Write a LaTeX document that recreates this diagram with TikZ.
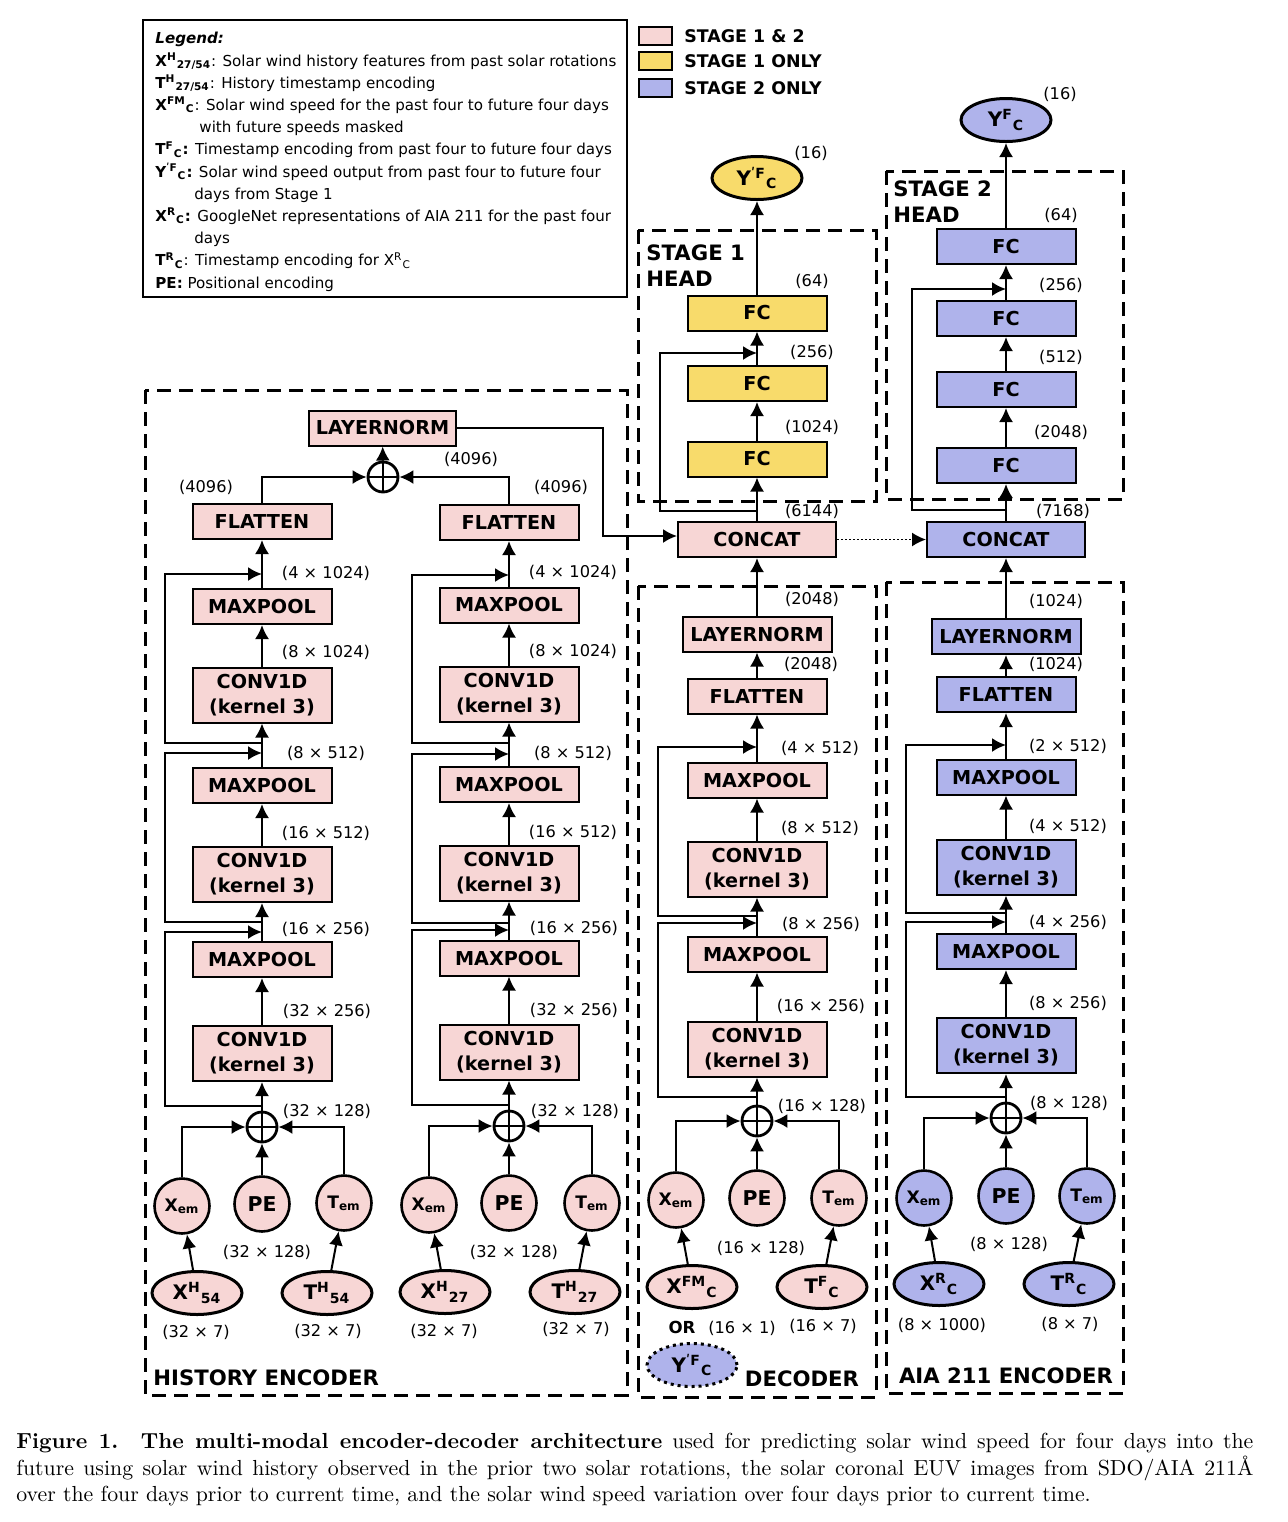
\documentclass[tikz,border=0pt]{standalone}
\usepackage{fontspec}
\newfontfamily\dvs{DejaVu Sans}
\usetikzlibrary{arrows.meta,shapes.geometric,positioning}

\definecolor{pinkfill}{HTML}{F7D6D5}
\definecolor{yelfill}{HTML}{F8DB6B}
\definecolor{bluefill}{HTML}{AFB3EB}

\newcommand{\supsub}[3]{#1\textsuperscript{#2}\textsubscript{#3}}

\tikzset{
  lay/.style={draw, line width=1pt, inner sep=0pt, minimum width=69.5pt, minimum height=17.5pt,
    align=center, font=\dvs\bfseries\fontsize{9.6}{12.5}\selectfont},
  lay2/.style={lay, minimum height=27.5pt},
  s12/.style={fill=pinkfill},
  s1/.style={fill=yelfill},
  s2/.style={fill=bluefill},
  emb/.style={circle, draw, line width=1.3pt, minimum size=27.5pt, inner sep=0pt,
    font=\dvs\bfseries\fontsize{8.6}{10}\selectfont},
  pe/.style={emb, font=\dvs\bfseries\fontsize{10.2}{11}\selectfont},
  inp/.style={ellipse, draw, line width=1.5pt, minimum width=45pt, minimum height=21.5pt,
    inner sep=0pt, font=\dvs\bfseries\fontsize{10}{11}\selectfont},
  dim/.style={inner sep=0pt, font=\dvs\fontsize{8.1}{10}\selectfont},
  grp/.style={line width=1.5pt, dash pattern=on 7pt off 4pt},
  ttl/.style={inner sep=0pt, align=left, font=\dvs\bfseries\fontsize{10.6}{13}\selectfont},
  key/.style={inner sep=0pt, anchor=west, font=\dvs\bfseries\fontsize{8.7}{10}\selectfont},
  swatch/.style={draw, line width=1pt, minimum width=16.5pt, minimum height=9pt, inner sep=0pt},
  arr/.style={-{Latex[length=7pt,width=7pt]}, line width=1pt},
  oplus/.style={circle, draw, line width=1.4pt, minimum size=15pt, inner sep=0pt,
    path picture={\draw[line width=1.4pt] (path picture bounding box.north) -- (path picture bounding box.south)
      (path picture bounding box.west) -- (path picture bounding box.east);}},
}

\begin{document}
\begin{tikzpicture}[x=0.5pt,y=-0.5pt]
\path[use as bounding box, fill=white] (0,0) rectangle (1288,1522);

% legend
\draw[line width=1pt] (143,20) rectangle (627,297);
\node[anchor=north west, inner sep=0pt, align=left, font=\dvs\fontsize{7.55}{11.1}\selectfont] (leg) at (155,32) {%
\textbf{\textit{Legend:}}\\
\textbf{\supsub{X}{H}{27/54}}: Solar wind history features from past solar rotations\\
\textbf{\supsub{T}{H}{27/54}}: History timestamp encoding\\
\textbf{\supsub{X}{FM}{C}}: Solar wind speed for the past four to future four days\\
\hspace*{22pt}with future speeds masked\\
\textbf{\supsub{T}{F}{C}:} Timestamp encoding from past four to future four days\\
\textbf{\supsub{Y}{ʹF}{C}:} Solar wind speed output from past four to future four\\
\hspace*{19.5pt}days from Stage 1\\
\textbf{\supsub{X}{R}{C}:} GoogleNet representations of AIA 211 for the past four\\
\hspace*{19.5pt}days\\
\textbf{\supsub{T}{R}{C}}: Timestamp encoding for \supsub{X}{R}{C}\\
\textbf{PE:} Positional encoding};

\node[swatch,s12] (k1) at (655.5,36) {};
\node[swatch,s1] (k2) at (655.5,61) {};
\node[swatch,s2] (k3) at (655.5,88) {};
\node[key, right=5.5pt of k1] (k1t) {STAGE 1 \& 2};
\node[key, right=5.5pt of k2] (k2t) {STAGE 1 ONLY};
\node[key, right=5.5pt of k3] (k3t) {STAGE 2 ONLY};

% group frames
\draw[grp] (145,390) rectangle (627,1395);
\draw[grp] (638,586) rectangle (876,1397);
\draw[grp] (886,582) rectangle (1123,1393);
\draw[grp] (638,230) rectangle (876,501);
\draw[grp] (886,171) rectangle (1123,499);
\node[ttl, anchor=west] (htl) at (153,1378) {HISTORY ENCODER};
\node[ttl] (dtl) at (802,1379) {DECODER};
\node[ttl] (atl) at (1006,1376) {AIA 211 ENCODER};
\node[ttl, anchor=north west] (s1tl) at (646,244) {STAGE 1\\HEAD};
\node[ttl, anchor=north west] (s2tl) at (893,180) {STAGE 2\\HEAD};

% history encoder, left branch
\node[lay,s12] (h1f) at (262,521.5) {FLATTEN};
\node[lay,s12] (h1m3) at (262,606.5) {MAXPOOL};
\node[lay2,s12] (h1c3) at (262,695) {CONV1D\\(kernel 3)};
\node[lay,s12] (h1m2) at (262,785.5) {MAXPOOL};
\node[lay2,s12] (h1c2) at (262,874.5) {CONV1D\\(kernel 3)};
\node[lay,s12] (h1m1) at (262,959.5) {MAXPOOL};
\node[lay2,s12] (h1c1) at (262,1053.5) {CONV1D\\(kernel 3)};
\node[oplus] (h1p) at (262,1127) {};
\node[emb,s12] (h1x) at (182,1206) {X\textsubscript{em}};
\node[pe,s12] (h1pe) at (262,1204) {PE};
\node[emb,s12] (h1t) at (344,1203) {T\textsubscript{em}};
\node[inp,s12] (h1xi) at (197,1293) {\supsub{X}{H}{54}};
\node[inp,s12] (h1ti) at (327,1293) {\supsub{T}{H}{54}};
\coordinate (h1a1) at (262,1106);
\coordinate (h1b1) at (262,932);
\coordinate (h1a2) at (262,922);
\coordinate (h1b2) at (262,753);
\coordinate (h1a3) at (262,743);
\coordinate (h1b3) at (262,574);

\draw[arr] (h1xi) -- (h1x);
\draw[arr] (h1ti) -- (h1t);
\draw[arr] (h1x) |- (h1p);
\draw[arr] (h1t) |- (h1p);
\draw[arr] (h1pe) -- (h1p);
\draw[arr] (h1p) -- (h1c1);
\draw[arr] (h1c1) -- (h1m1);
\draw[arr] (h1m1) -- (h1c2);
\draw[arr] (h1c2) -- (h1m2);
\draw[arr] (h1m2) -- (h1c3);
\draw[arr] (h1c3) -- (h1m3);
\draw[arr] (h1m3) -- (h1f);
\draw[arr] (h1a1) -- ++(-97,0) |- (h1b1);
\draw[arr] (h1a2) -- ++(-97,0) |- (h1b2);
\draw[arr] (h1a3) -- ++(-97,0) |- (h1b3);

\node[dim] (h1d1) at (326,573) {(4 × 1024)};
\node[dim] (h1d2) at (326,652) {(8 × 1024)};
\node[dim] (h1d3) at (326,753) {(8 × 512)};
\node[dim] (h1d4) at (326,833) {(16 × 512)};
\node[dim] (h1d5) at (326,929) {(16 × 256)};
\node[dim] (h1d6) at (327,1011) {(32 × 256)};
\node[dim] (h1d7) at (327,1111) {(32 × 128)};
\node[dim] (h1d8) at (267,1252) {(32 × 128)};
\node[dim] (h1d9) at (196,1332) {(32 × 7)};
\node[dim] (h1d10) at (328,1331) {(32 × 7)};

% history encoder, right branch
\node[lay,s12] (h2f) at (509,522.5) {FLATTEN};
\node[lay,s12] (h2m3) at (509,605) {MAXPOOL};
\node[lay2,s12] (h2c3) at (509,694) {CONV1D\\(kernel 3)};
\node[lay,s12] (h2m2) at (509,784.5) {MAXPOOL};
\node[lay2,s12] (h2c2) at (509,873) {CONV1D\\(kernel 3)};
\node[lay,s12] (h2m1) at (509,958) {MAXPOOL};
\node[lay2,s12] (h2c1) at (509,1052) {CONV1D\\(kernel 3)};
\node[oplus] (h2p) at (509,1126) {};
\node[emb,s12] (h2x) at (429,1205) {X\textsubscript{em}};
\node[pe,s12] (h2pe) at (509,1203) {PE};
\node[emb,s12] (h2t) at (592,1203) {T\textsubscript{em}};
\node[inp,s12] (h2xi) at (445,1292) {\supsub{X}{H}{27}};
\node[inp,s12] (h2ti) at (575,1292) {\supsub{T}{H}{27}};
\coordinate (h2a1) at (509,1105);
\coordinate (h2b1) at (509,930);
\coordinate (h2a2) at (509,923);
\coordinate (h2b2) at (509,754);
\coordinate (h2a3) at (509,743);
\coordinate (h2b3) at (509,575);

\draw[arr] (h2xi) -- (h2x);
\draw[arr] (h2ti) -- (h2t);
\draw[arr] (h2x) |- (h2p);
\draw[arr] (h2t) |- (h2p);
\draw[arr] (h2pe) -- (h2p);
\draw[arr] (h2p) -- (h2c1);
\draw[arr] (h2c1) -- (h2m1);
\draw[arr] (h2m1) -- (h2c2);
\draw[arr] (h2c2) -- (h2m2);
\draw[arr] (h2m2) -- (h2c3);
\draw[arr] (h2c3) -- (h2m3);
\draw[arr] (h2m3) -- (h2f);
\draw[arr] (h2a1) -- ++(-97,0) |- (h2b1);
\draw[arr] (h2a2) -- ++(-97,0) |- (h2b2);
\draw[arr] (h2a3) -- ++(-97,0) |- (h2b3);

\node[dim] (h2d1) at (573,572) {(4 × 1024)};
\node[dim] (h2d2) at (573,651) {(8 × 1024)};
\node[dim] (h2d3) at (573,753) {(8 × 512)};
\node[dim] (h2d4) at (573,832) {(16 × 512)};
\node[dim] (h2d5) at (574,928) {(16 × 256)};
\node[dim] (h2d6) at (574,1010) {(32 × 256)};
\node[dim] (h2d7) at (575,1111) {(32 × 128)};
\node[dim] (h2d8) at (514,1252) {(32 × 128)};
\node[dim] (h2d9) at (444,1331) {(32 × 7)};
\node[dim] (h2d10) at (576,1329) {(32 × 7)};

% history merge
\node[oplus] (hp) at (383,477) {};
\node[lay,s12,minimum width=73.5pt] (hln) at (382.5,428) {LAYERNORM};
\draw[arr] (h1f) |- (hp);
\draw[arr] (h2f) |- (hp);
\draw[arr] (hp) -- (hln);
\node[dim] (hd1) at (206,487) {(4096)};
\node[dim] (hd2) at (471,459) {(4096)};
\node[dim] (hd3) at (561,487) {(4096)};

% decoder
\node[lay,s12,minimum width=79pt] (dcat) at (757,539.5) {CONCAT};
\node[lay,s12,minimum width=74.5pt] (dln) at (757,634) {LAYERNORM};
\node[lay,s12] (dfl) at (757,696) {FLATTEN};
\node[lay,s12] (dm2) at (757,780) {MAXPOOL};
\node[lay2,s12] (dc2) at (757,869) {CONV1D\\(kernel 3)};
\node[lay,s12] (dm1) at (757,954) {MAXPOOL};
\node[lay2,s12] (dc1) at (757,1049) {CONV1D\\(kernel 3)};
\node[oplus] (dp) at (757,1121) {};
\node[emb,s12] (dx) at (676,1200) {X\textsubscript{em}};
\node[pe,s12] (dpe) at (757,1198) {PE};
\node[emb,s12] (dt) at (839,1198) {T\textsubscript{em}};
\node[inp,s12] (dxi) at (692,1287) {\supsub{X}{FM}{C}};
\node[inp,s12] (dti) at (822,1287) {\supsub{T}{F}{C}};
\node[inp,s2,dotted] (dyi) at (692,1365) {\supsub{Y}{ʹF}{C}};
\coordinate (da1) at (757,1097);
\coordinate (db1) at (757,923);
\coordinate (da2) at (757,916);
\coordinate (db2) at (757,747);

\draw[arr] (dxi) -- (dx);
\draw[arr] (dti) -- (dt);
\draw[arr] (dx) |- (dp);
\draw[arr] (dt) |- (dp);
\draw[arr] (dpe) -- (dp);
\draw[arr] (dp) -- (dc1);
\draw[arr] (dc1) -- (dm1);
\draw[arr] (dm1) -- (dc2);
\draw[arr] (dc2) -- (dm2);
\draw[arr] (dm2) -- (dfl);
\draw[arr] (dfl) -- (dln);
\draw[arr] (dln) -- (dcat);
\draw[arr] (da1) -- ++(-99,0) |- (db1);
\draw[arr] (da2) -- ++(-99,0) |- (db2);
\draw[arr] (hln.east) -- ++(146,0) |- ([yshift=1.75pt]dcat.west);

\node[dim] (dd1) at (812,599) {(2048)};
\node[dim] (dd2) at (811,664) {(2048)};
\node[dim] (dd3) at (820,748) {(4 × 512)};
\node[dim] (dd4) at (820,828) {(8 × 512)};
\node[dim] (dd5) at (821,924) {(8 × 256)};
\node[dim] (dd6) at (821,1006) {(16 × 256)};
\node[dim] (dd7) at (822,1106) {(16 × 128)};
\node[dim] (dd8) at (761,1248) {(16 × 128)};
\node[dim, font=\dvs\bfseries\fontsize{8.3}{10}\selectfont] (dor) at (682,1327) {OR};
\node[dim] (dd9) at (742,1328) {(16 × 1)};
\node[dim] (dd10) at (823,1326) {(16 × 7)};

% stage 1 head
\node[lay,s1] (s1f1) at (757,459) {FC};
\node[lay,s1] (s1f2) at (757,383.5) {FC};
\node[lay,s1] (s1f3) at (757,313) {FC};
\node[inp,s1] (s1y) at (757,178) {\supsub{Y}{ʹF}{C}};
\coordinate (s1a) at (757,511);
\coordinate (s1b) at (757,353);
\draw[arr] (dcat) -- (s1f1);
\draw[arr] (s1f1) -- (s1f2);
\draw[arr] (s1f2) -- (s1f3);
\draw[arr] (s1f3) -- (s1y);
\draw[arr] (s1a) -- ++(-97,0) |- (s1b);
\node[dim] (s1d1) at (811,153) {(16)};
\node[dim] (s1d2) at (812,281) {(64)};
\node[dim] (s1d3) at (812,352) {(256)};
\node[dim] (s1d4) at (812,427) {(1024)};
\node[dim] (s1d5) at (812,511) {(6144)};

% AIA 211 encoder
\node[lay,s2,minimum width=79pt] (acat) at (1006,539.5) {CONCAT};
\node[lay,s2,minimum width=74.5pt] (aln) at (1006,636.5) {LAYERNORM};
\node[lay,s2] (afl) at (1006,694.5) {FLATTEN};
\node[lay,s2] (am2) at (1006,777) {MAXPOOL};
\node[lay2,s2] (ac2) at (1006,867) {CONV1D\\(kernel 3)};
\node[lay,s2] (am1) at (1006,951.5) {MAXPOOL};
\node[lay2,s2] (ac1) at (1006,1045.5) {CONV1D\\(kernel 3)};
\node[oplus] (ap) at (1006,1118) {};
\node[emb,s2] (ax) at (924,1198) {X\textsubscript{em}};
\node[pe,s2] (ape) at (1006,1196) {PE};
\node[emb,s2] (at) at (1087,1196) {T\textsubscript{em}};
\node[inp,s2] (axi) at (939,1284) {\supsub{X}{R}{C}};
\node[inp,s2] (ati) at (1069,1284) {\supsub{T}{R}{C}};
\coordinate (aa1) at (1006,1097);
\coordinate (ab1) at (1006,922);
\coordinate (aa2) at (1006,913);
\coordinate (ab2) at (1006,745);

\draw[arr] (axi) -- (ax);
\draw[arr] (ati) -- (at);
\draw[arr] (ax) |- (ap);
\draw[arr] (at) |- (ap);
\draw[arr] (ape) -- (ap);
\draw[arr] (ap) -- (ac1);
\draw[arr] (ac1) -- (am1);
\draw[arr] (am1) -- (ac2);
\draw[arr] (ac2) -- (am2);
\draw[arr] (am2) -- (afl);
\draw[arr] (afl) -- (aln);
\draw[arr] (aln) -- (acat);
\draw[arr] (aa1) -- ++(-100,0) |- (ab1);
\draw[arr] (aa2) -- ++(-100,0) |- (ab2);
\draw[arr, line width=0.8pt, dash pattern=on 0.8pt off 1.2pt] (dcat) -- (acat);

\node[dim] (ad1) at (1056,601) {(1024)};
\node[dim] (ad2) at (1056,664) {(1024)};
\node[dim] (ad3) at (1068,746) {(2 × 512)};
\node[dim] (ad4) at (1068,826) {(4 × 512)};
\node[dim] (ad5) at (1068,922) {(4 × 256)};
\node[dim] (ad6) at (1068,1003) {(8 × 256)};
\node[dim] (ad7) at (1069,1103) {(8 × 128)};
\node[dim] (ad8) at (1009,1244) {(8 × 128)};
\node[dim] (ad9) at (942,1325) {(8 × 1000)};
\node[dim] (ad10) at (1070,1324) {(8 × 7)};

% stage 2 head
\node[lay,s2] (s2f1) at (1006,465.5) {FC};
\node[lay,s2] (s2f2) at (1006,389.5) {FC};
\node[lay,s2] (s2f3) at (1006,318.5) {FC};
\node[lay,s2] (s2f4) at (1006,246.5) {FC};
\node[inp,s2] (s2y) at (1006,120) {\supsub{Y}{F}{C}};
\coordinate (s2a) at (1006,510);
\coordinate (s2b) at (1006,289);
\draw[arr] (acat) -- (s2f1);
\draw[arr] (s2f1) -- (s2f2);
\draw[arr] (s2f2) -- (s2f3);
\draw[arr] (s2f3) -- (s2f4);
\draw[arr] (s2f4) -- (s2y);
\draw[arr] (s2a) -- ++(-94,0) |- (s2b);
\node[dim] (s2d1) at (1060,94) {(16)};
\node[dim] (s2d2) at (1061,215) {(64)};
\node[dim] (s2d3) at (1061,285) {(256)};
\node[dim] (s2d4) at (1061,357) {(512)};
\node[dim] (s2d5) at (1061,432) {(2048)};
\node[dim] (s2d6) at (1063,511) {(7168)};

% caption
\node[anchor=north west, inner sep=0pt, text width=618.5pt, align=justify,
  font=\fontsize{10.9}{13.25}\selectfont] (cap) at (16,1433) {%
\textbf{Figure 1.\ \ The multi-modal encoder-decoder architecture} used for predicting solar wind speed for four days into the\linebreak
future using solar wind history observed in the prior two solar rotations, the solar coronal EUV images from SDO/AIA 211Å\linebreak
over the four days prior to current time, and the solar wind speed variation over four days prior to current time.};
\end{tikzpicture}
\end{document}
